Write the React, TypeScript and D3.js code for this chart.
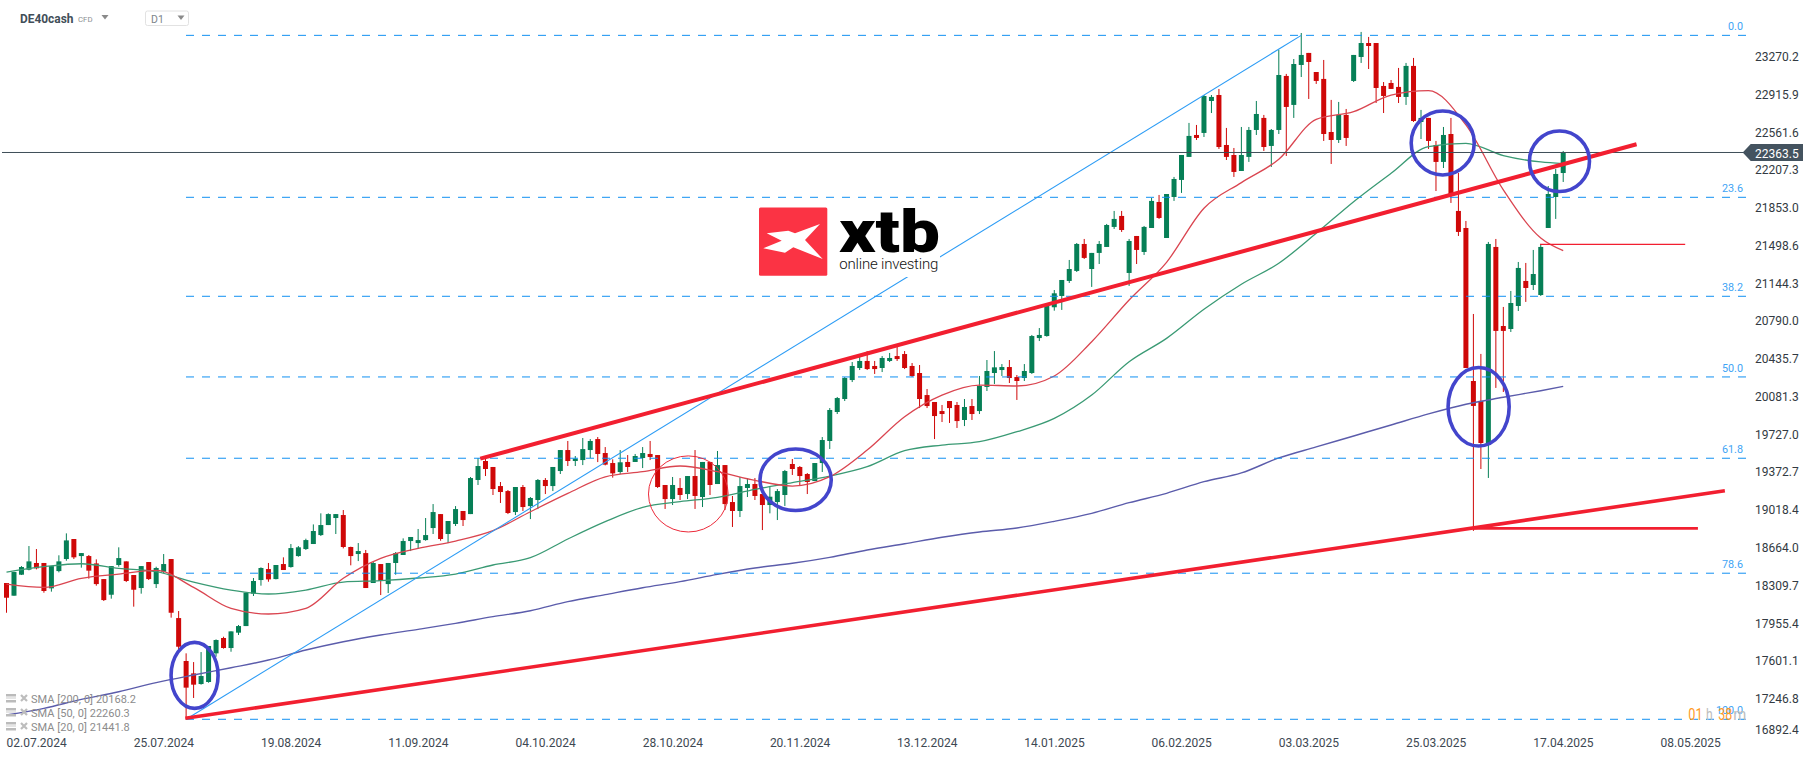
import React from "react";
import * as d3 from "d3";

const opens = [18323,18204,18401,18448,18511,18511,18273,18435,18548,18736,
18576,18576,18507,18360,18213,18492,18526,18398,18276,18520,
18313,18429,18548,17994,17591,17475,17375,17394,17663,17807,
17713,17857,17919,18223,18351,18454,18360,18501,18473,18576,
18642,18689,18773,18867,18933,18961,18661,18595,18604,18323,
18501,18313,18511,18586,18717,18698,18726,18839,18970,18783,
18877,18999,18970,19290,19468,19412,19233,19186,18989,19224,
19045,19102,19290,19233,19374,19571,19468,19477,19571,19674,
19543,19449,19365,19459,19459,19496,19534,19524,19243,19111,
19215,19158,19327,19130,19459,19252,19430,19083,18999,19215,
19252,19158,19055,19083,19149,19440,19412,19346,19280,19449,
19656,19928,20050,20228,20341,20407,20360,20341,20407,20453,
20472,20360,20294,20087,20022,19937,20031,19994,19853,19984,
19937,20163,20294,20322,20350,20256,20247,20294,20622,20641,
20911,21017,21158,21252,21505,21270,21421,21477,21665,21768,
21233,21580,21430,21655,21899,21561,21946,22106,22322,22528,
22547,22847,22903,22434,22340,22190,22322,22575,22688,22425,
22575,23082,22810,23185,23298,23119,23054,22556,22481,22716,
23035,23260,23391,23391,22988,23016,22979,22885,23176,22650,
22688,22434,22275,22537,21815,21655,20219,20032,19619,21477,
20735,20707,20923,21158,21120,21026,21655,21946,22171];
const highs = [18323,18429,18482,18670,18642,18511,18482,18583,18789,18736,
18604,18586,18545,18360,18482,18658,18526,18398,18482,18520,
18476,18595,18548,18060,17663,17581,17675,17732,17794,17819,
17869,17929,18232,18370,18470,18511,18492,18564,18689,18670,
18739,18873,18977,18977,18970,19008,18664,18698,18633,18520,
18501,18511,18614,18742,18755,18830,18933,19064,18970,18905,
19045,18999,19318,19496,19496,19412,19271,19196,19224,19243,
19130,19299,19308,19412,19571,19656,19515,19684,19674,19693,
19599,19484,19571,19524,19534,19599,19656,19524,19243,19318,
19308,19327,19571,19459,19459,19562,19430,19140,19318,19308,
19308,19158,19233,19205,19384,19487,19421,19355,19449,19693,
19965,20069,20256,20397,20444,20500,20407,20453,20482,20538,
20500,20388,20369,20144,20022,19994,20031,20022,20050,20050,
20266,20416,20500,20378,20416,20275,20378,20651,20716,20940,
21073,21167,21355,21514,21552,21421,21533,21693,21815,21815,
21552,21580,21674,21937,21965,21974,22134,22340,22641,22622,
22903,22903,22960,22594,22406,22603,22603,22847,22716,22584,
23326,23101,23241,23485,23298,23119,23232,22857,22838,22772,
23279,23495,23448,23391,23025,23044,23157,23204,23251,22763,
22688,22472,22603,22688,22171,21721,20848,20473,21524,21552,
20914,21064,21336,21327,21449,21505,22049,22209,22378];
const lows = [18044,18204,18398,18442,18451,18232,18242,18423,18532,18548,
18467,18364,18298,18154,18176,18476,18332,18101,18223,18351,
18276,18414,17998,17688,17043,17244,17369,17387,17631,17707,
17678,17835,17919,18201,18298,18335,18357,18445,18467,18570,
18633,18689,18764,18867,18783,18648,18489,18529,18276,18323,
18210,18229,18401,18586,18623,18642,18720,18783,18720,18698,
18858,18858,18970,19243,19327,19149,19074,18970,18961,18999,
18923,19017,19158,19186,19346,19421,19421,19430,19496,19458,
19427,19312,19346,19365,19459,19402,19477,19215,19018,19055,
19102,19111,19018,19036,19149,19252,19008,18849,18942,19130,
19102,18820,18977,18914,19046,19337,19233,19158,19280,19365,
19581,19909,20031,20209,20322,20322,20285,20303,20397,20407,
20331,20256,19965,19965,19674,19834,19825,19778,19796,19853,
19909,20125,20191,20266,20200,20041,20219,20285,20594,20635,
20879,20886,21139,21242,21364,21102,21317,21477,21646,21618,
21111,21317,21402,21655,21740,21561,21909,21984,22322,22481,
22509,22734,22397,22293,22134,22190,22275,22528,22378,22228,
22537,22331,22688,23072,22866,23007,22472,22256,22453,22425,
23025,23204,23147,22828,22734,22960,22828,22810,22650,22490,
22397,22002,22218,21890,21580,20341,18812,19393,19309,20154,
20116,20679,20876,20961,21073,21017,21655,21740,22087];
const closes = [18185,18426,18473,18526,18461,18248,18482,18526,18723,18564,
18604,18439,18313,18163,18482,18557,18342,18260,18482,18360,
18464,18501,18044,17725,17341,17369,17450,17732,17788,17713,
17869,17919,18232,18342,18464,18357,18492,18445,18651,18658,
18726,18811,18867,18970,18970,18661,18576,18623,18276,18511,
18342,18511,18604,18717,18755,18726,18773,18989,18736,18905,
19017,18914,19308,19421,19393,19205,19177,18980,19224,19036,
19121,19290,19233,19412,19571,19468,19490,19580,19656,19534,
19434,19352,19456,19412,19515,19543,19506,19224,19111,19243,
19149,19327,19140,19459,19243,19430,19064,18999,19233,19252,
19140,19055,19133,19186,19374,19393,19327,19271,19449,19665,
19947,20059,20247,20360,20407,20331,20331,20435,20435,20425,
20341,20266,20050,19984,19890,19909,19965,19843,19975,19909,
20172,20313,20347,20350,20247,20219,20313,20641,20651,20932,
21042,21167,21270,21505,21374,21421,21505,21683,21740,21636,
21533,21449,21665,21909,21749,21974,22115,22340,22519,22500,
22894,22885,22415,22322,22181,22340,22575,22725,22415,22575,
23091,22791,23194,23279,23213,23035,22537,22481,22716,22500,
23279,23391,23363,22969,22894,22960,22885,23176,22659,22688,
22472,22275,22528,21974,21618,20341,19985,19637,21505,20689,
20689,20951,21280,21092,21223,21477,21974,22162,22363.5];

const smaIndex = [0,5,10,15,20,25,30,35,40,45,50,55,60,65,70,75,80,85,90,95,100,105,110,115,120,125,130,135,140,145,150,155,160,165,170,175,180,185,190,195,200,205,208];
const sma200 = [17084,17147,17231,17303,17388,17460,17528,17600,17694,17772,17835,17888,17944,18007,18063,18148,18214,18279,18336,18404,18464,18508,18564,18633,18692,18752,18802,18839,18902,18977,19077,19165,19274,19356,19497,19600,19703,19806,19910,20001,20066,20128,20168];
const sma50 = [18426,18476,18504,18461,18429,18332,18257,18220,18257,18332,18345,18370,18407,18492,18561,18736,18899,19033,19086,19127,19202,19265,19327,19415,19565,19618,19649,19743,19868,20087,20400,20619,20892,21127,21324,21605,21902,22168,22419,22450,22334,22275,22260];
const sma20 = [18313,18282,18367,18407,18442,18282,18085,18032,18085,18367,18554,18648,18717,18814,18992,19164,19320,19368,19421,19368,19287,19233,19321,19571,19884,20087,20181,20172,20266,20588,20979,21333,21840,22081,22300,22675,22747,22903,22944,22622,22012,21561,21442];

const fibLevels = ["0.0","23.6","38.2","50.0","61.8","78.6","100.0"];
const fibValues = [23463,21943,21014,20257,19494,18415,17044];
const axisTicks = [23270.2,22915.9,22561.6,22207.3,21853.0,21498.6,21144.3,20790.0,20435.7,20081.3,19727.0,19372.7,19018.4,18664.0,18309.7,17955.4,17601.1,17246.8,16892.4];
const dateLabels = ["02.07.2024","25.07.2024","19.08.2024","11.09.2024","04.10.2024","28.10.2024","20.11.2024","13.12.2024","14.01.2025","06.02.2025","03.03.2025","25.03.2025","17.04.2025","08.05.2025"];
const dateIndex = [0,17,34,51,68,85,102,119,136,153,170,187,204,221];
const legendRows = ["SMA [200, 0] 20168.2","SMA [50, 0] 22260.3","SMA [20, 0] 21441.8"];
const lastPrice = 22363.5;

// trend lines: [index, price, index, price]
const fibTrend = [24, 17044, 173, 23463];
const upperTrend = [63.3, 19490, 217.8, 22441];
const lowerTrend = [23.9, 17054, 229.6, 19189];
const lowHorizontal = [196, 18836, 226, 18836];
const thinHorizontal = [204.9, 21502, 224.3, 21502];
// ellipses: centre index, centre price, half width in bars, half height in points
const blueRings = [[25.13,17456,3.14,310],[105.44,19292,4.76,289],[191.9,22453,4.21,300],[207.5,22281,4.01,284],[196.7,19977,4.08,368]];
const redRing = [91.1,19159,5.32,357];

const W = 1815, H = 759;
const FONT = "Roboto, sans-serif";
const UP = "#067f56", DOWN = "#cf0808", RED = "#f21f30", DASH = "#1190f2", FIBTXT = "#3fa4f5", RING = "#4345cc";
const x = d3.scaleLinear().domain([0, 221]).range([6.5, 1660.5]);
const y = d3.scaleLinear().domain([17000, 23000]).range([723.98, 84.68]);

function TrendLine({ d, stroke, w }: { d: number[]; stroke: string; w: number }) {
  return <line x1={x(d[0])} y1={y(d[1])} x2={x(d[2])} y2={y(d[3])} stroke={stroke} strokeWidth={w} />;
}

function smaPath(vals: number[]) {
  const gen = d3.line<number>().x((_, i) => x(smaIndex[i])).y((v) => y(v)).curve(d3.curveMonotoneX);
  return gen(vals) || "";
}

function Ring({ r, stroke, w }: { r: number[]; stroke: string; w: number }) {
  return <ellipse cx={x(r[0])} cy={y(r[1])} rx={Math.abs(x(r[0] + r[2]) - x(r[0]))} ry={Math.abs(y(r[1] + r[3]) - y(r[1]))} fill="none" stroke={stroke} strokeWidth={w} />;
}

export default function App() {
  const tickY = (v: number) => Math.min(y(v) + 1, 730);
  return (
    <svg width={W} height={H} viewBox={`0 0 ${W} ${H}`} style={{ position: "absolute", left: 0, top: 0, background: "#fff", display: "block" }} fontFamily={FONT}>
      {/* header */}
      <text x={20} y={23} fontSize={12.5} fontWeight={700} fill="#414e58" textLength={53.5} lengthAdjust="spacingAndGlyphs">DE40cash</text>
      <text x={78} y={22} fontSize={8} fill="#8b8f93" textLength={14.5} lengthAdjust="spacingAndGlyphs">CFD</text>
      <path d="M101.5 15h7l-3.5 4.5z" fill="#8a8a8a" />
      <rect x={145.5} y={11} width={43} height={14.5} rx={2} fill="#fff" stroke="#e2e2e2" />
      <text x={151} y={23.2} fontSize={10.5} fill="#7d858b">D1</text>
      <path d="M177.5 15.5h7l-3.5 4.5z" fill="#8a8a8a" />

      {/* candles */}
      <g>
        {opens.map((o, i) => {
          const up = closes[i] >= o;
          const c = up ? UP : DOWN;
          const top = y(Math.max(o, closes[i]));
          const bottom = y(Math.min(o, closes[i]));
          return (
            <g key={i}>
              <line x1={x(i)} x2={x(i)} y1={y(highs[i])} y2={y(lows[i])} stroke={c} strokeWidth={1} />
              <rect x={x(i) - 2.5} y={top} width={5} height={Math.max(bottom - top, 1)} fill={c} />
            </g>
          );
        })}
      </g>

      {/* moving averages */}
      <path d={smaPath(sma200)} fill="none" stroke="#5b5cab" strokeWidth={1.4} />
      <path d={smaPath(sma50)} fill="none" stroke="#3a9a74" strokeWidth={1.3} />
      <path d={smaPath(sma20)} fill="none" stroke="#da4550" strokeWidth={1.3} />

      {/* fib levels */}
      {fibValues.map((v, i) => (
        <g key={i}>
          <line x1={186} x2={1747} y1={y(v)} y2={y(v)} stroke={DASH} strokeWidth={1} strokeDasharray="8 8" />
          <text x={1743} y={y(v) - 5} fontSize={10.8} textAnchor="end" fill={FIBTXT}>{fibLevels[i]}</text>
        </g>
      ))}

      <TrendLine d={fibTrend} stroke="#2c9cf5" w={1.1} />

      {/* logo */}
      <rect x={755} y={203} width={185} height={74} fill="#fff" />
      <rect x={759} y={207.5} width={68.3} height={68.3} rx={1.5} fill="#fb3344" />
      <path d="M766.7 233.3L788.3 230.7L795 233.3L820 224L805 240L822.7 259L793.3 247.3L785 252.7L763.3 248.3L781.7 240.7Z" fill="#fff" />
      <text x={839} y={252.3} fontSize={60} fontWeight={900} fill="#000" textLength={101} lengthAdjust="spacingAndGlyphs">xtb</text>
      <text x={839.3} y={268.5} fontSize={15} fontWeight={300} fill="#111" textLength={99} lengthAdjust="spacing">online investing</text>

      {/* price line */}
      <line x1={2} x2={1744} y1={y(lastPrice)} y2={y(lastPrice)} stroke="#3f4e59" strokeWidth={1} />

      <TrendLine d={upperTrend} stroke={RED} w={4} />
      <TrendLine d={lowerTrend} stroke={RED} w={3.6} />
      <TrendLine d={lowHorizontal} stroke={RED} w={2.8} />
      <TrendLine d={thinHorizontal} stroke={RED} w={1.2} />

      <Ring r={redRing} stroke="#ec2a3a" w={1} />
      {blueRings.map((r, i) => <Ring key={i} r={r} stroke={RING} w={3.6} />)}

      {/* price axis */}
      {axisTicks.map((t) => (
        <text key={t} x={1755} y={tickY(t)} dy="0.36em" fontSize={12} fill="#323a42">{t.toFixed(1)}</text>
      ))}
      <path d={`M1742.7 ${y(lastPrice)}L1750.7 144H1803V161H1750.7Z`} fill="#44535f" />
      <text x={1755} y={y(lastPrice) + 1} dy="0.36em" fontSize={12} fill="#fff">{lastPrice.toFixed(1)}</text>

      {/* time axis */}
      {dateLabels.map((d, i) => (
        <text key={d} x={x(dateIndex[i])} y={747} fontSize={12} fill="#3d4852">{d}</text>
      ))}

      {/* countdown */}
      <text x={1688.3} y={720} fontSize={16} fill="#ff9a1f" textLength={14.3} lengthAdjust="spacingAndGlyphs">01</text>
      <text x={1706} y={720} fontSize={16} fill="#bdbdbd" textLength={6.7} lengthAdjust="spacingAndGlyphs">h</text>
      <text x={1718.3} y={720} fontSize={16} fill="#ff9a1f" textLength={14} lengthAdjust="spacingAndGlyphs">38</text>
      <text x={1733.3} y={720} fontSize={16} fill="#bdbdbd" textLength={13} lengthAdjust="spacingAndGlyphs">m</text>

      {/* legend */}
      {legendRows.map((t, i) => {
        const cy = 699 + i * 14;
        return (
          <g key={t}>
            <rect x={6} y={cy - 5} width={10} height={2.5} fill="#bbb" />
            <rect x={6} y={cy - 1.5} width={10} height={1} fill="#ccc" />
            <rect x={6} y={cy + 1} width={10} height={2.5} fill="#bbb" />
            <path d={`M21 ${cy - 4}L27 ${cy + 2}M27 ${cy - 4}L21 ${cy + 2}`} stroke="#bdbdbd" strokeWidth={2.2} />
            <text x={31} y={cy + 4} fontSize={11} fill="#8c8c8c" wordSpacing={0.2}>{t}</text>
          </g>
        );
      })}
    </svg>
  );
}
